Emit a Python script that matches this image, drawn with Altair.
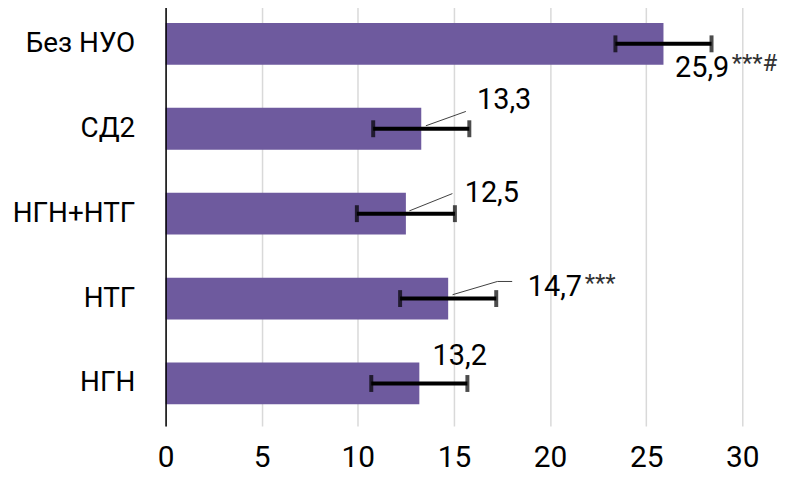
import altair as alt
import pandas as pd

categories = ["Без НУО", "СД2", "НГН+НТГ", "НТГ", "НГН"]
values = [25.9, 13.3, 12.5, 14.7, 13.2]
err_lo = [23.4, 10.8, 9.95, 12.2, 10.7]
err_hi = [28.4, 15.8, 15.05, 17.2, 15.7]
value_labels = ["25,9", "13,3", "12,5", "14,7", "13,2"]
sup_labels = ["***#", "", "", "***", ""]
x_ticks = [0, 5, 10, 15, 20, 25, 30]

# annotation placement (label anchor in data units, vertical offset in px from bar centre)
label_x = [26.5, 16.2, 15.56, 18.84, 13.89]
label_off = [24, -29, -20.5, -12, -28]
sup_x = [29.45, 0, 0, 21.8, 0]
sup_off = [20, 0, 0, -15, 0]
leader_row = [1, 1, 2, 2, 3, 3, 3]
leader_x = [13.54, 15.62, 12.68, 14.92, 14.93, 17.26, 18.03]
leader_off = [-3, -17.4, -2.8, -20.2, -3.9, -17.2, -17.2]

W, H = 580, 427
STEP = H / len(categories)
FONT = "Roboto"
BAR = "#6e5a9e"

df = pd.DataFrame({"cat": categories, "v": values, "lo": err_lo, "hi": err_hi})
lab = pd.DataFrame({
    "t": value_labels,
    "x": label_x,
    "y": [i + 0.5 + o / STEP for i, o in enumerate(label_off)],
})
sup = pd.DataFrame({
    "t": sup_labels,
    "x": sup_x,
    "y": [i + 0.5 + o / STEP for i, o in enumerate(sup_off)],
})
sup = sup[sup["t"] != ""]
lead = pd.DataFrame({
    "row": leader_row,
    "x": leader_x,
    "y": [r + 0.5 + o / STEP for r, o in zip(leader_row, leader_off)],
    "ord": list(range(len(leader_row))),
})

xscale = alt.Scale(domain=[0, 30], nice=False, zero=True)
yband = alt.Scale(paddingInner=0, paddingOuter=0)
xaxis = alt.Axis(values=x_ticks, grid=True, gridColor="#d9d9d9", gridWidth=1.5,
                 ticks=False, domain=False, labelFont=FONT, labelFontSize=30,
                 labelColor="#000000", labelPadding=17, title=None, labelFlush=False)
yaxis = alt.Axis(title=None, ticks=False, grid=False, domainColor="#000000",
                 domainWidth=1.5, labelFont=FONT, labelFontSize=28,
                 labelColor="#000000", labelPadding=31, zindex=1)

base = alt.Chart(df)
bars = base.mark_bar(color=BAR, size=42).encode(
    x=alt.X("v:Q", scale=xscale, axis=xaxis),
    y=alt.Y("cat:N", sort=categories, scale=yband, axis=yaxis),
)
err = base.mark_rule(color="#000000", strokeWidth=4).encode(
    x="lo:Q", x2="hi:Q", y=alt.Y("cat:N", sort=categories)
)
cap_lo = base.mark_tick(color="#000000", thickness=4, size=17).encode(
    x="lo:Q", y=alt.Y("cat:N", sort=categories)
)
cap_hi = base.mark_tick(color="#000000", thickness=4, size=17).encode(
    x="hi:Q", y=alt.Y("cat:N", sort=categories)
)
main = alt.layer(bars, err, cap_lo, cap_hi)

yann = alt.Scale(domain=[0, len(categories)], reverse=True, nice=False, zero=False)
texts = alt.Chart(lab).mark_text(font=FONT, fontSize=29, align="left",
                                 baseline="middle", color="#000000").encode(
    x="x:Q", y=alt.Y("y:Q", scale=yann, axis=None), text="t:N"
)
sups = alt.Chart(sup).mark_text(font=FONT, fontSize=24, align="left",
                                baseline="middle", color="#333333").encode(
    x="x:Q", y=alt.Y("y:Q", scale=yann, axis=None), text="t:N"
)
leaders = alt.Chart(lead).mark_line(color="#404040", strokeWidth=1).encode(
    x="x:Q", y=alt.Y("y:Q", scale=yann, axis=None), detail="row:N", order="ord:Q"
)
ann = alt.layer(leaders, texts, sups)

chart = alt.layer(main, ann).resolve_scale(y="independent").properties(
    width=W, height=H,
    autosize=alt.AutoSizeParams(type="none"),
    padding={"left": 158.5, "top": -8, "right": 50, "bottom": 50},
).configure_view(stroke=None)

chart.save("out.html", embed_options={"renderer": "svg", "actions": False})
